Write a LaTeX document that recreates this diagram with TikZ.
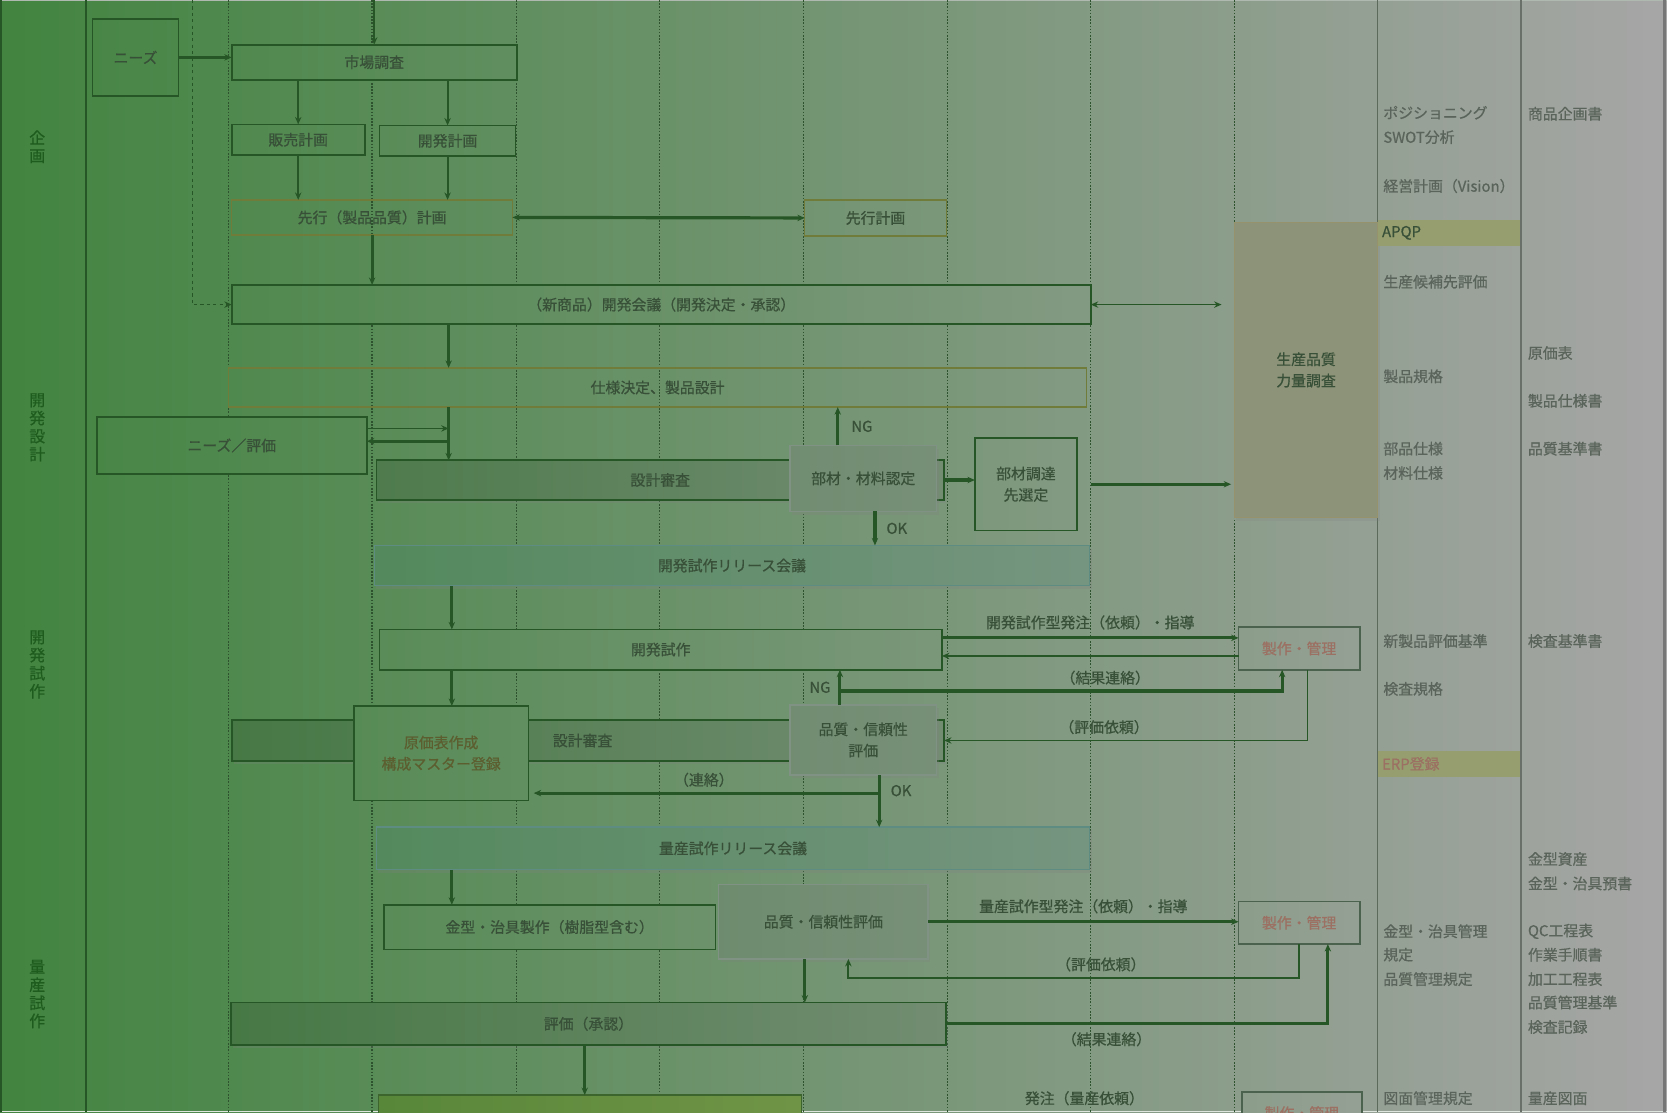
\documentclass[tikz,border=0pt]{standalone}
\usepackage{fontspec}
\setmainfont{Noto Sans CJK JP}[FakeBold=0.7]
\usetikzlibrary{arrows.meta,shadows}

\definecolor{bgL}{RGB}{66,132,64}
\definecolor{bgR}{RGB}{166,166,166}
\definecolor{ln}{RGB}{38,86,38}
\definecolor{dotc}{RGB}{45,82,45}
\definecolor{tx}{RGB}{56,80,56}
\definecolor{txr}{RGB}{90,100,90}
\definecolor{olv}{RGB}{112,124,58}
\definecolor{brn}{RGB}{156,112,98}
\definecolor{gnk}{RGB}{92,94,48}
\definecolor{tl}{RGB}{60,125,120}
\definecolor{tlb}{RGB}{95,140,130}
\definecolor{gy}{RGB}{112,126,116}
\definecolor{gyb}{RGB}{128,146,132}
\definecolor{tanc}{RGB}{140,147,120}
\definecolor{tanb}{RGB}{150,146,108}
\definecolor{bandc}{RGB}{150,158,112}
\definecolor{mkb}{RGB}{75,98,78}
\definecolor{phc}{RGB}{30,92,30}
\definecolor{topc}{RGB}{175,185,175}
\definecolor{botc}{RGB}{222,228,222}
\definecolor{sepa}{RGB}{92,106,92}
\definecolor{sepb}{RGB}{105,112,105}
\definecolor{edgec}{RGB}{118,118,118}
\definecolor{finb}{RGB}{60,100,45}
\definecolor{finl}{RGB}{88,135,58}
\definecolor{finr}{RGB}{112,148,70}

\begin{document}
\begin{tikzpicture}[x=1pt,y=-1pt,>={Stealth[length=7pt,width=6pt]},
  every node/.style={font=\fontsize{14}{20}\selectfont,text=tx},
  box/.style={draw=ln,line width=1.6pt,inner sep=0pt,outer sep=0pt,align=center},
  bg/.style 2 args={left color=bgR!#1!bgL,right color=bgR!#2!bgL},
  dark/.style 2 args={left color=bgR!#1!bgL!88!black,right color=bgR!#2!bgL!93!black,
    drop shadow={shadow xshift=2pt,shadow yshift=-3pt,opacity=0.25}},
  teal/.style 2 args={draw=tlb,line width=1.2pt,left color=bgR!#1!bgL!82!tl,right color=bgR!#2!bgL!82!tl,
    drop shadow={shadow xshift=2pt,shadow yshift=-3pt,opacity=0.25}},
  grey/.style 2 args={draw=gyb,line width=1.4pt,left color=bgR!#1!bgL!65!gy,right color=bgR!#2!bgL!70!gy,
    drop shadow={shadow xshift=2pt,shadow yshift=-3pt,opacity=0.25}},
  plan/.style={box,draw=olv,line width=1.3pt},
  make/.style={box,draw=mkb,line width=1.5pt,text=brn},
  band/.style={fill=bandc,inner xsep=4pt,inner ysep=0pt,text width=126pt,minimum height=25pt,align=left},
  phase/.style={font=\fontsize{15}{17}\selectfont,text=phc,align=center},
  doc/.style={anchor=west,text=txr,inner sep=0pt},
  fatline/.style={draw=ln,line width=3pt},
  midline/.style={draw=ln,line width=1.8pt},
  thinline/.style={draw=ln,line width=1.2pt}]

  \useasboundingbox (0,0) rectangle (1568,1046);
  % background and lanes
  \shade[left color=bgL,right color=bgR] (0,0) rectangle (1568,1046);
  \draw[line width=1pt,topc] (0,0.5) -- (1568,0.5);
  \draw[line width=1.5pt,botc] (0,1045.5) -- (1568,1045.5);
  \draw[line width=2pt,ln] (1,0) -- (1,1046);
  \draw[line width=2pt,ln] (81,0) -- (81,1046);
  \foreach \x in {215,350,486,620,756,1026}
    \draw[dotc,line width=1.2pt,dash pattern=on 1.5pt off 1.5pt] (\x,0) -- (\x,1046);
  \foreach \x in {891,1161}
    \draw[dotc,line width=0.8pt,dash pattern=on 1.5pt off 1.5pt] (\x,0) -- (\x,1046);
  \draw[line width=1pt,sepa] (1296,0) -- (1296,1046);
  \draw[line width=1.8pt,sepb] (1431,0) -- (1431,1046);
  \draw[line width=3pt,edgec] (1566,0) -- (1566,1046);

  % phases
  \node[phase] (ph1) at (35,138) {企\\画};
  \node[phase] (ph2) at (35,402) {開\\発\\設\\計};
  \node[phase] (ph3) at (35,625) {開\\発\\試\\作};
  \node[phase] (ph4) at (35,935) {量\\産\\試\\作};

  % planning
  \node[box,bg={6}{11},minimum width=81pt,minimum height=72pt] (needs) at (127.5,54) {ニーズ};
  \node[box,bg={14}{31},minimum width=268pt,minimum height=33pt] (market) at (352,58.5) {市場調査};
  \node[box,bg={14}{22},minimum width=125pt,minimum height=29pt] (sales) at (280.5,131.5) {販売計画};
  \node[box,bg={23}{31},minimum width=128pt,minimum height=29pt] (devplan) at (421,132.5) {開発計画};
  \node[plan,minimum width=264pt,minimum height=33pt] (advq) at (350,204.5) {先行（製品品質）計画};
  \node[plan,bg={48}{57},minimum width=133pt,minimum height=34pt] (adv) at (823.5,205) {先行計画};

  % design
  \node[box,bg={14}{65},minimum width=808pt,minimum height=37pt] (meeting) at (622,286.5) {（新商品）開発会議（開発決定・承認）};
  \node[plan,minimum width=807pt,minimum height=37pt] (spec) at (618.5,364.5) {仕様決定、製品設計};
  \node[box,bg={6}{22},minimum width=254pt,minimum height=54pt] (needsEval) at (218,419) {ニーズ／評価};
  \node[box,dark={23}{57},minimum width=534pt,minimum height=37pt] (review1) at (621,451.5) {設計審査};
  \node[box,grey={47}{56},minimum width=138pt,minimum height=62pt] (buzai) at (812,450) {部材・材料認定};
  \node[box,bg={58}{65},line width=1.4pt,minimum width=96pt,minimum height=87pt] (buzaiSel) at (965,455.5) {部材調達\\先選定};
  \node[box,draw=tanb,line width=1pt,fill=tanc,minimum width=135pt,minimum height=278pt,
    drop shadow={shadow xshift=2pt,shadow yshift=-3pt,opacity=0.2}] (prodq) at (1228.5,348) {生産品質\\力量調査};

  % prototype
  \node[box,teal={22}{65},minimum width=673pt,minimum height=38pt] (rel1) at (688.5,532) {開発試作リリース会議};
  \node[box,bg={23}{57},minimum width=529pt,minimum height=38pt] (proto) at (621.5,611) {開発試作};
  \node[make,bg={74}{82},minimum width=114pt,minimum height=40pt] (make1) at (1222,610) {製作・管理};
  \node[box,dark={14}{57},minimum width=670pt,minimum height=39pt,text width=630pt,align=left] (review2) at (553,696.5) {\hspace*{282pt}設計審査};
  \node[box,bg={21}{32},line width=1.4pt,text=gnk,minimum width=164pt,minimum height=89pt] (genka) at (415,708.5) {原価表作成\\構成マスター登録};
  \node[box,grey={47}{56},minimum width=138pt,minimum height=66pt] (qual1) at (812,696) {品質・信頼性\\評価};

  % mass-production prototype
  \node[box,teal={23}{65},minimum width=671pt,minimum height=40pt] (rel2) at (689.5,798) {量産試作リリース会議};
  \node[box,bg={23}{43},minimum width=312pt,minimum height=42pt] (mold) at (517,872) {金型・治具製作（樹脂型含む）};
  \node[box,grey={43}{56},minimum width=197pt,minimum height=70pt] (qual2) at (774.5,867) {品質・信頼性評価};
  \node[make,bg={74}{82},minimum width=114pt,minimum height=40pt] (make2) at (1222,868) {製作・管理};
  \node[box,dark={14}{57},minimum width=673pt,minimum height=40pt] (approve) at (553.5,963) {評価（承認）};
  \node[box,draw=finb,left color=finl,right color=finr,minimum width=398pt,minimum height=40pt] (final) at (555,1050) {};
  \node[make,bg={74}{82},minimum width=113pt,minimum height=40pt] (make3) at (1224.5,1047) {製作・管理};

  % methods and documents
  \node[band] (apqp) at (1363,219) {APQP};
  \node[band,text=brn] (erp) at (1363,718.5) {ERP登録};
  \foreach \t/\y [count=\i] in {ポジショニング/106,SWOT分析/129,経営計画（Vision）/175,生産候補先評価/265,
      製品規格/354,部品仕様/422,材料仕様/445,新製品評価基準/603,検査規格/648,
      金型・治具管理/876,規定/898,品質管理規定/921,図面管理規定/1033}
    \node[doc] (m\i) at (1301,\y) {\t};
  \foreach \t/\y [count=\i] in {商品企画書/107,原価表/332,製品仕様書/377,品質基準書/422,検査基準書/603,
      金型資産/808,金型・治具預書/831,QC工程表/876,作業手順書/898,加工工程表/921,
      品質管理基準/943,検査記録/966,量産図面/1033}
    \node[doc] (d\i) at (1437,\y) {\t};

  % turning points
  \coordinate (top1) at (352,0);
  \coordinate (top2) at (181,0);
  \coordinate (xa) at (422,0);
  \coordinate (xb) at (425,0);
  \coordinate (xc) at (757,0);
  \coordinate (xd) at (550,0);
  \coordinate (ng1) at (788,0);
  \coordinate (ok1) at (823,0);
  \coordinate (ng2) at (790,0);
  \coordinate (ok2) at (827,0);
  \coordinate (j1) at (422,403);
  \coordinate (j2) at (422,415);
  \coordinate (r1) at (790,650);
  \coordinate (c1) at (827,746);
  \coordinate (e2) at (798,920);

  % connectors
  \draw[fatline,->] (needs.east) -- (needs.east -| market.west);
  \draw[midline,->] (top1) -- (market.north);
  \draw[midline,->] (market.south -| sales) -- (sales.north);
  \draw[midline,->] (market.south -| devplan) -- (devplan.north);
  \draw[midline,->] (sales.south) -- (sales.south |- advq.north);
  \draw[midline,->] (devplan.south) -- (devplan.south |- advq.north);
  \draw[fatline,<->] (advq.east) -- (adv.west);
  \draw[fatline,->] (advq.south) -- (advq.south |- meeting.north);
  \draw[thinline,dashed,->] (top2) |- (meeting.west);
  \draw[thinline,<->,shorten >=12pt] (meeting.east) -- (meeting.east -| prodq.west);
  \draw[fatline,->] (meeting.south -| xa) -- (spec.north -| xa);
  \draw[fatline,->] (spec.south -| xa) -- (review1.north -| xa);
  \draw[thinline,->] (needsEval.east |- j1) -- (j1);
  \draw[fatline,->] (j2) -- (needsEval.east |- j2);
  \draw[fatline,->] (buzai.north -| ng1) -- node[right=8pt] {NG} (spec.south -| ng1);
  \draw[fatline,->] (review1.east) -- (review1.east -| buzaiSel.west);
  \draw[fatline,->] (buzai.south -| ok1) -- node[right=6pt] {OK} (rel1.north -| ok1);
  \draw[fatline,->,shorten <=13pt,shorten >=3pt] (buzaiSel.east) -- (buzaiSel.east -| prodq.west);
  \draw[fatline,->] (rel1.south -| xb) -- (proto.north -| xb);
  \draw[fatline,->] ([yshift=11pt]proto.east) -- node[above=3pt] {開発試作型発注（依頼）・指導} ([yshift=10pt]make1.west);
  \draw[midline,->] ([yshift=-7pt]make1.west) -- ([yshift=-6pt]proto.east);
  \draw[fatline,->] (qual1.north -| ng2) -- node[left=4pt] {NG} (proto.south -| ng2);
  \draw[fatline,->] (r1) -| node[pos=0.3,above=1pt] {（結果連絡）} ([xshift=-16pt]make1.south);
  \draw[fatline,->] (proto.south -| xb) -- (genka.north -| xb);
  \draw[thinline,->] ([xshift=8pt]make1.south) |- node[pos=0.78,above=2pt] {（評価依頼）} (review2.east);
  \draw[fatline,->] (qual1.south -| ok2) -- node[right=6pt,pos=0.3] {OK} (rel2.north -| ok2);
  \draw[fatline,->,shorten >=5pt] (c1) -- node[above=1pt] {（連絡）} (c1 -| genka.east);
  \draw[fatline,->] (rel2.south -| xb) -- (mold.north -| xb);
  \draw[fatline,->] (qual2.east) -- node[above=3pt] {量産試作型発注（依頼）・指導} (qual2.east -| make2.west);
  \draw[midline,->] (make2.south) |- node[pos=0.72,above=2pt] {（評価依頼）} (e2) -- (e2 |- qual2.south);
  \draw[fatline,->] (qual2.south -| xc) -- (approve.north -| xc);
  \draw[fatline,->] (approve.east) -| node[pos=0.21,below=3pt] {（結果連絡）} ([xshift=27pt]make2.south);
  \draw[fatline,->] (approve.south -| xd) -- (final.north -| xd);
  \node (order) at (1020,1033) {発注（量産依頼）};
\end{tikzpicture}
\end{document}
